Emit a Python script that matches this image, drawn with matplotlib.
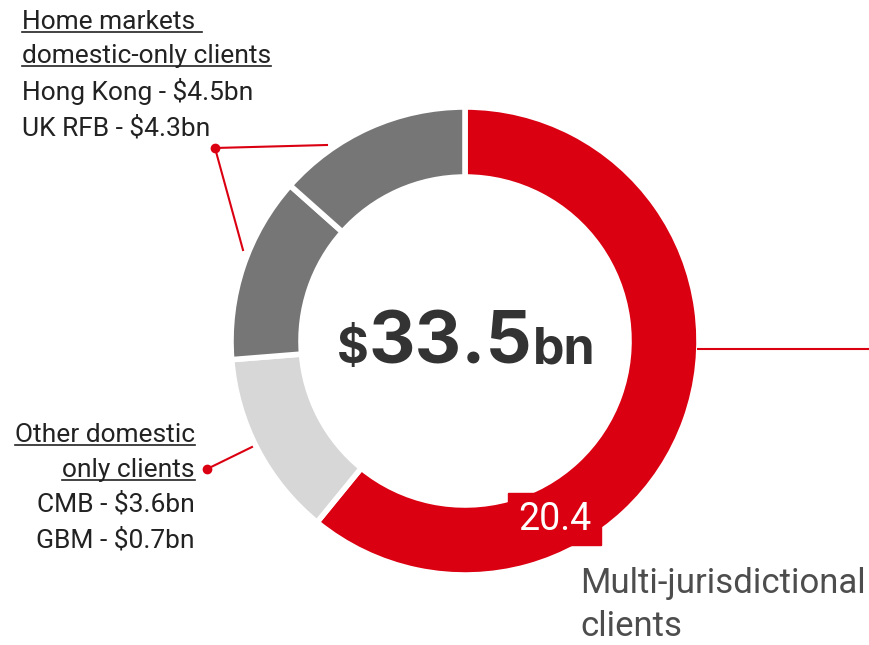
import matplotlib.pyplot as plt

# values ($bn)
segments = ['Multi-jurisdictional', 'Other domestic', 'UK RFB', 'Hong Kong']
values = [20.4, 4.3, 4.3, 4.5]
colors = ['#DB0011', '#D7D7D7', '#767676', '#767676']
total = 33.5
multi_value = 20.4

home_lines = ['Hong Kong - $4.5bn', 'UK RFB - $4.3bn']
other_lines = ['CMB - $3.6bn', 'GBM - $0.7bn']

red = '#DB0011'
font = 'Roboto'
wt = 'normal'
txt_col = '#222222'

fig = plt.figure(figsize=(8.7, 6.45), dpi=100)
ax = fig.add_axes([0, 0, 1, 1])

# donut (y axis inverted -> counterclock in data = clockwise on screen)
ax.pie(values, colors=colors, startangle=-90, counterclock=True,
       center=(465, 341), radius=234, frame=True,
       wedgeprops=dict(width=70, edgecolor='white', linewidth=4))
ax.set_xlim(0, 870)
ax.set_ylim(645, 0)
ax.set_aspect('equal')
ax.axis('off')

renderer = fig.canvas.get_renderer()


def underlined(x, y, s, ha='left'):
    t = ax.text(x, y, s, fontsize=19, family=font, fontweight=wt,
                color=txt_col, va='baseline', ha=ha)
    bb = t.get_window_extent(renderer).transformed(ax.transData.inverted())
    ax.plot([bb.x0, bb.x1], [y + 3, y + 3], color=txt_col, lw=1.2)


# centre total
ctr = dict(fontweight='bold', family='Inter', color='#333333', va='baseline')
ax.text(369, 363, '$', fontsize=35, ha='right', **ctr)
ax.text(369, 363, f'{total:.1f}', fontsize=52, ha='left', **ctr)
ax.text(533, 363, 'bn', fontsize=36, ha='left', **ctr)

# 20.4 box
ax.add_patch(plt.Rectangle((508, 493), 93, 52, color=red, zorder=3))
ax.text(555, 530, f'{multi_value}', fontsize=27, family=font, fontweight='normal',
        color='white', ha='center', va='baseline', zorder=4)

# multi-jurisdictional label + leader
ax.plot([698, 870], [349, 349], color=red, lw=1.5)
ax.text(580, 593, 'Multi-jurisdictional', fontsize=25, family=font, fontweight=wt,
        color='#4D4D4D', va='baseline')
ax.text(580, 636, 'clients', fontsize=25, family=font, fontweight=wt,
        color='#4D4D4D', va='baseline')

# home markets label
underlined(22, 29, 'Home markets ')
underlined(22, 63, 'domestic-only clients')
for i, s in enumerate(home_lines):
    ax.text(22, 100 + 35 * i, s, fontsize=19, family=font, fontweight=wt,
            color=txt_col, va='baseline')
ax.plot([327, 215, 243], [145, 148, 250], color=red, lw=1.5)
ax.plot(215, 148, 'o', color=red, ms=6)

# other domestic label
underlined(195, 442, 'Other domestic', ha='right')
underlined(195, 477, 'only clients', ha='right')
for i, s in enumerate(other_lines):
    ax.text(195, 512 + 36 * i, s, fontsize=19, family=font, fontweight=wt,
            color=txt_col, va='baseline', ha='right')
ax.plot([207, 252], [469, 447], color=red, lw=1.5)
ax.plot(207, 469, 'o', color=red, ms=6)

fig.savefig('out.png', dpi=100)
